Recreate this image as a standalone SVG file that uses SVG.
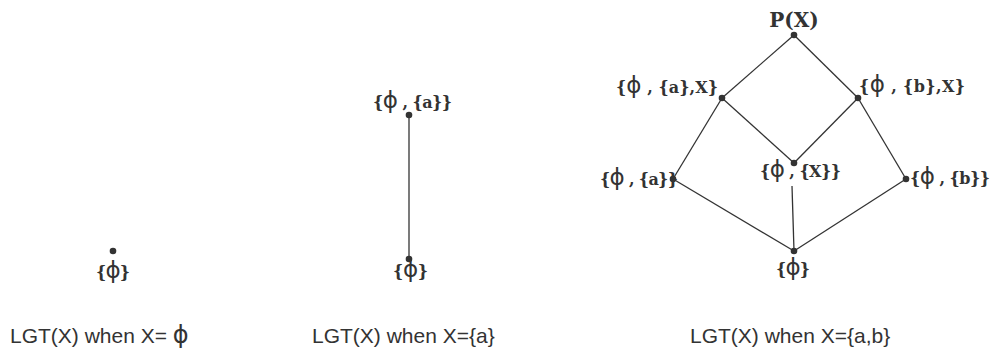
<svg xmlns="http://www.w3.org/2000/svg" width="993" height="350" viewBox="0 0 993 350">
<style>
.lbl{font-family:"DejaVu Serif","Liberation Serif",serif;font-weight:bold;font-size:16px;fill:#333}
.big{font-size:20px}
.phi{font-family:"DejaVu Sans","Liberation Sans",sans-serif;font-weight:normal;font-size:23px}
.cap{font-family:"Liberation Sans",Arial,sans-serif;font-size:21px;fill:#333}
.cphi{font-family:"DejaVu Sans",sans-serif;font-size:24px}
.dot{fill:#333}
.edge{stroke:#333;stroke-width:1.3;fill:none}
</style>
<rect width="993" height="350" fill="#fff"/>
<g id="connectors">
<line class="edge" x1="409" y1="115" x2="409" y2="259"/>
<line class="edge" x1="794" y1="35" x2="722" y2="98"/>
<line class="edge" x1="794" y1="35" x2="858" y2="98"/>
<line class="edge" x1="722" y1="98" x2="673" y2="179"/>
<line class="edge" x1="722" y1="98" x2="794" y2="163"/>
<line class="edge" x1="858" y1="98" x2="794" y2="163"/>
<line class="edge" x1="858" y1="98" x2="906" y2="179"/>
<line class="edge" x1="673" y1="179" x2="794" y2="251"/>
<line class="edge" x1="906" y1="179" x2="794" y2="251"/>
<line class="edge" x1="792" y1="186" x2="794" y2="251"/>
</g>
<g id="n-left-empty">
<circle class="dot" cx="113" cy="251" r="3.3"/>
<text class="lbl" x="96" y="278" textLength="34">{<tspan class="phi">ϕ</tspan>}</text>
</g>
<g id="n-mid-top">
<circle class="dot" cx="409" cy="115" r="3.3"/>
<text class="lbl" x="373" y="108" textLength="79">{<tspan class="phi">ϕ</tspan> , {a}}</text>
</g>
<g id="n-mid-bottom">
<circle class="dot" cx="409" cy="259" r="3.3"/>
<text class="lbl" x="393" y="277" textLength="35">{<tspan class="phi">ϕ</tspan>}</text>
</g>
<g id="n-px">
<circle class="dot" cx="794" cy="35" r="3.3"/>
<text class="lbl big" x="794" y="27" text-anchor="middle">P(X)</text>
</g>
<g id="n-aX">
<circle class="dot" cx="722" cy="98" r="3.3"/>
<text class="lbl" x="616" y="93" textLength="102">{<tspan class="phi">ϕ</tspan> , {a},X}</text>
</g>
<g id="n-bX">
<circle class="dot" cx="858" cy="98" r="3.3"/>
<text class="lbl" x="859" y="92" textLength="106">{<tspan class="phi">ϕ</tspan> , {b},X}</text>
</g>
<g id="n-X">
<circle class="dot" cx="794" cy="163" r="3.3"/>
<text class="lbl" x="760" y="177" textLength="81">{<tspan class="phi">ϕ</tspan> , {X}}</text>
</g>
<g id="n-a">
<circle class="dot" cx="673" cy="179" r="3.3"/>
<text class="lbl" x="600" y="185" textLength="78">{<tspan class="phi">ϕ</tspan> , {a}}</text>
</g>
<g id="n-b">
<circle class="dot" cx="906" cy="179" r="3.3"/>
<text class="lbl" x="910" y="184" textLength="80">{<tspan class="phi">ϕ</tspan> , {b}}</text>
</g>
<g id="n-empty">
<circle class="dot" cx="794" cy="251" r="3.3"/>
<text class="lbl" x="776" y="275" textLength="34">{<tspan class="phi">ϕ</tspan>}</text>
</g>
<g id="captions">
<text class="cap" x="10" y="343">LGT(X) when X= <tspan class="cphi">ϕ</tspan></text>
<text class="cap" x="312" y="343">LGT(X) when X={a}</text>
<text class="cap" x="690" y="343">LGT(X) when X={a,b}</text>
</g>
</svg>
